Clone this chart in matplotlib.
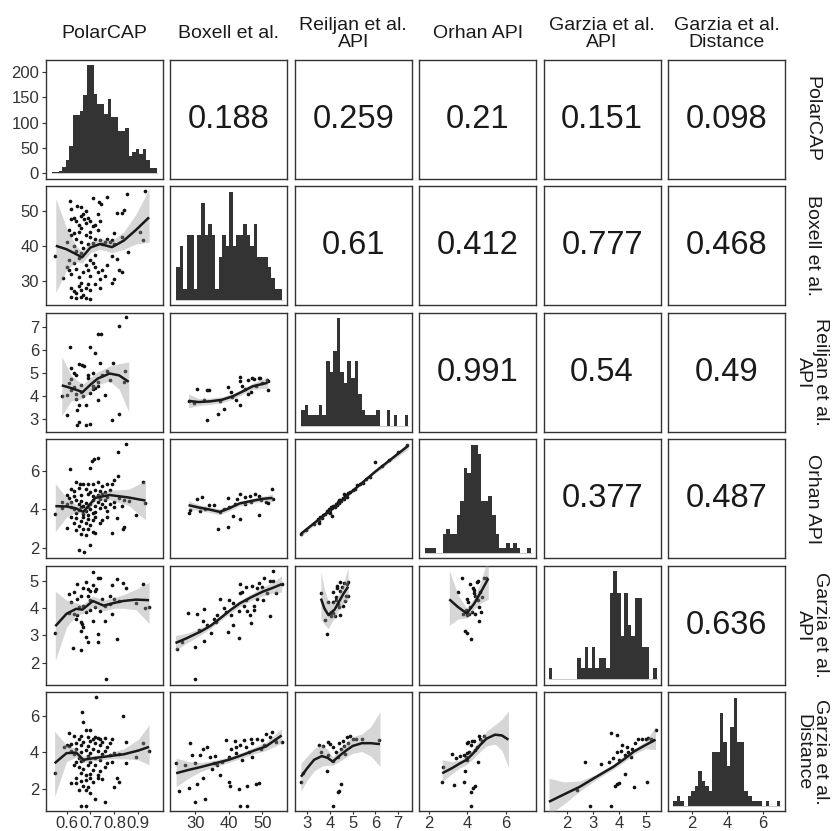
import numpy as np
import matplotlib
matplotlib.use("Agg")
import matplotlib.pyplot as plt

plt.rcParams['font.family'] = ['Liberation Sans', 'DejaVu Sans']

labels = ["PolarCAP", "Boxell et al.", "Reiljan et al.\nAPI", "Orhan API",
          "Garzia et al.\nAPI", "Garzia et al.\nDistance"]

# axis ranges
x_limits = [(0.514, 1.003), (22.6, 57.4), (2.45, 7.6), (1.48, 7.59), (1.13, 5.57), (0.63, 7.27)]
y_limits = [None, (23.1, 56.9), (2.48, 7.59), (1.46, 7.65), (1.19, 5.56), (0.82, 7.25)]
x_ticks = [[0.6, 0.7, 0.8, 0.9], [30, 40, 50], [3, 4, 5, 6, 7], [2, 4, 6], [2, 3, 4, 5], [2, 4, 6]]
y_ticks = [[0, 50, 100, 150, 200], [30, 40, 50], [3, 4, 5, 6, 7], [2, 4, 6], [2, 3, 4, 5], [2, 4, 6]]

# upper triangle correlations, row by row
cor_values = [0.188, 0.259, 0.21, 0.151, 0.098,
              0.61, 0.412, 0.777, 0.468,
              0.991, 0.54, 0.49,
              0.377, 0.487,
              0.636]

# diagonal histograms (30 bins) : bin range + counts
hist_range = [(0.5375, 0.978), (24.4, 55.7), (2.72, 7.44), (1.78, 7.31), (1.32, 5.42), (0.93, 6.99)]
counts_polarcap = [3, 2, 5, 13, 25, 54, 114, 114, 122, 155, 213, 213, 157, 136, 136,
                   116, 146, 111, 111, 84, 84, 89, 33, 42, 47, 38, 47, 26, 10, 10]
counts_boxell = [3, 5, 1, 6, 6, 1, 6, 9, 6, 7, 6, 1, 4, 6, 5,
                 10, 5, 6, 6, 7, 6, 5, 7, 4, 4, 4, 3, 2, 1, 1]
counts_reiljan = [3, 4, 2, 2, 2, 4, 2, 12, 10, 14, 20, 10, 8, 12, 9,
                  12, 6, 3, 2, 2, 2, 3, 0, 0, 3, 0, 2, 0, 0, 2]
counts_orhan = [1, 1, 1, 0, 0, 4, 5, 4, 4, 8, 11, 18, 17, 23, 23,
                21, 11, 11, 12, 8, 4, 1, 1, 2, 1, 2, 1, 0, 0, 1]
counts_garzia_api = [2, 0, 0, 0, 0, 0, 0, 0, 4, 2, 6, 2, 6, 2, 4,
                     4, 2, 16, 20, 16, 8, 16, 10, 8, 15, 15, 6, 6, 0, 2]
counts_garzia_dist = [1, 2, 1, 0, 2, 3, 4, 7, 5, 4, 3, 11, 11, 19, 13,
                      8, 16, 22, 13, 13, 3, 2, 1, 1, 1, 0, 1, 0, 0, 1]

# lower triangle scatter points (x, y)
pts_boxell_polarcap = [
    (0.613, 52.7), (0.645, 51.2), (0.709, 53.7), (0.736, 52.5), (0.742, 51.8), (0.768, 53.9),
    (0.62, 47.5), (0.63, 48), (0.64, 47), (0.65, 46), (0.66, 48.5), (0.67, 49), (0.675, 47.5),
    (0.68, 46.5), (0.69, 48), (0.70, 47), (0.71, 45.5), (0.72, 46), (0.73, 44.5), (0.74, 47),
    (0.66, 45), (0.65, 44), (0.63, 43.5), (0.62, 43), (0.61, 44.5), (0.60, 41), (0.64, 42),
    (0.68, 43), (0.70, 42.5), (0.72, 42), (0.74, 41.5), (0.66, 41), (0.69, 40.5), (0.71, 40.8),
    (0.75, 40.5), (0.76, 41), (0.78, 41.2), (0.80, 40.6), (0.63, 40), (0.67, 39.5), (0.70, 44),
    (0.73, 49), (0.68, 50), (0.66, 51), (0.62, 50.5),
    (0.851, 54.8), (0.927, 55.7), (0.83, 49.2), (0.84, 50.3), (0.81, 49.2), (0.906, 43.9),
    (0.92, 41.6), (0.858, 38.2), (0.81, 36.3), (0.79, 37.2), (0.79, 41.6), (0.77, 42),
    (0.83, 42.5), (0.80, 43.5),
    (0.551, 37.2), (0.586, 30.8), (0.60, 34), (0.61, 33), (0.62, 32), (0.63, 35), (0.64, 33.5),
    (0.65, 31), (0.66, 29.5), (0.67, 32.5), (0.68, 34.5), (0.69, 33), (0.70, 31.5), (0.71, 35),
    (0.72, 34), (0.73, 32.5), (0.74, 30.5), (0.75, 33), (0.76, 31.5), (0.77, 34.5), (0.62, 28),
    (0.63, 27), (0.64, 26.5), (0.65, 28.5), (0.66, 27.5), (0.67, 26), (0.68, 28), (0.69, 29),
    (0.70, 27.5), (0.72, 29), (0.74, 28), (0.62, 25.3), (0.64, 25), (0.66, 25.5), (0.68, 25),
    (0.70, 24.9), (0.79, 29.5), (0.80, 30.4), (0.82, 33), (0.83, 32.5), (0.61, 36), (0.65, 36.5),
    (0.70, 36), (0.66, 38), (0.64, 38.5), (0.72, 37.5)]
pts_reiljan_polarcap = [
    (0.847, 7.40), (0.82, 7.03), (0.73, 6.67), (0.745, 6.67), (0.613, 6.13), (0.70, 6.13),
    (0.72, 5.85), (0.65, 5.4), (0.665, 5.35), (0.675, 5.3), (0.74, 5.42), (0.796, 5.42),
    (0.845, 5.09), (0.62, 5.2), (0.63, 5.0), (0.64, 4.9), (0.60, 3.17), (0.65, 2.89),
    (0.645, 2.74), (0.68, 2.74), (0.70, 2.8), (0.79, 2.99), (0.82, 3.22), (0.76, 4.04),
    (0.73, 3.85), (0.68, 3.64), (0.65, 3.64), (0.645, 3.42), (0.60, 4.04), (0.62, 4.26),
    (0.71, 4.3), (0.72, 4.35), (0.73, 4.45), (0.62, 4.73), (0.69, 4.8), (0.73, 4.6),
    (0.84, 4.6), (0.78, 4.68), (0.66, 4.5), (0.64, 4.1), (0.66, 4.2), (0.67, 4.0),
    (0.70, 4.15), (0.71, 4.45), (0.69, 4.9), (0.71, 5.0), (0.75, 4.9), (0.77, 5.1),
    (0.64, 3.9), (0.63, 4.4), (0.61, 4.55), (0.58, 4.0)]
pts_orhan_polarcap = [
    (0.847, 7.39), (0.816, 7.0), (0.73, 6.7), (0.715, 6.62), (0.705, 6.55), (0.70, 6.16),
    (0.613, 6.1), (0.816, 5.73), (0.92, 5.43), (0.93, 4.34), (0.89, 3.7), (0.81, 3.53),
    (0.84, 3.1), (0.835, 3.0), (0.79, 2.78), (0.65, 1.88), (0.675, 1.75), (0.70, 2.14),
    (0.60, 3.01), (0.553, 3.74), (0.58, 4.4),
    (0.64, 5.45), (0.655, 5.35), (0.67, 5.3), (0.69, 5.35), (0.71, 5.3), (0.73, 5.45),
    (0.75, 5.2), (0.77, 5.3), (0.79, 5.3), (0.80, 5.55), (0.62, 5.05), (0.63, 4.95),
    (0.65, 5.1), (0.68, 5.05), (0.72, 5.0), (0.74, 4.95), (0.76, 4.9), (0.78, 5.0),
    (0.63, 4.7), (0.66, 4.75), (0.69, 4.8), (0.71, 4.7), (0.73, 4.75), (0.75, 4.8),
    (0.77, 4.65), (0.70, 4.9), (0.61, 4.6), (0.60, 4.75),
    (0.62, 4.4), (0.64, 4.5), (0.65, 4.3), (0.66, 4.45), (0.67, 4.2), (0.68, 4.35),
    (0.69, 4.1), (0.70, 4.3), (0.71, 4.5), (0.72, 4.2), (0.73, 4.4), (0.74, 4.55),
    (0.75, 4.3), (0.76, 4.5), (0.78, 4.3), (0.80, 4.4), (0.82, 4.6), (0.84, 4.5),
    (0.86, 4.45), (0.63, 4.0), (0.65, 3.95), (0.66, 4.1), (0.68, 3.9), (0.70, 4.0),
    (0.72, 3.85), (0.74, 4.05), (0.76, 4.1), (0.64, 3.8), (0.67, 3.75), (0.69, 3.7),
    (0.71, 3.8), (0.77, 3.9), (0.80, 4.1), (0.83, 4.2), (0.62, 4.1), (0.60, 4.3), (0.58, 4.05),
    (0.62, 3.6), (0.64, 3.55), (0.66, 3.4), (0.67, 3.6), (0.68, 3.3), (0.69, 3.5),
    (0.70, 3.2), (0.71, 3.45), (0.72, 3.6), (0.74, 3.3), (0.65, 3.15), (0.67, 3.0),
    (0.69, 2.95), (0.71, 2.8), (0.66, 2.7), (0.68, 2.65), (0.72, 2.75), (0.64, 2.9),
    (0.75, 3.45), (0.77, 3.6), (0.63, 3.3)]
pts_garzia_api_polarcap = [
    (0.709, 5.35), (0.553, 3.09), (0.765, 1.40), (0.625, 2.55), (0.66, 2.45), (0.69, 2.76),
    (0.73, 2.76), (0.81, 2.87), (0.73, 3.04), (0.66, 3.17), (0.68, 2.95), (0.71, 3.52),
    (0.76, 3.53), (0.66, 3.5), (0.666, 3.42), (0.645, 4.9), (0.68, 4.97), (0.73, 5.1),
    (0.74, 5.1), (0.79, 4.87), (0.81, 5.08), (0.835, 4.94), (0.85, 4.76), (0.92, 4.9),
    (0.61, 4.51), (0.63, 4.6), (0.62, 4.25), (0.645, 4.35), (0.66, 4.44), (0.69, 4.46),
    (0.70, 4.3), (0.72, 4.62), (0.725, 4.7), (0.69, 4.7), (0.75, 4.35), (0.78, 4.44),
    (0.80, 4.35), (0.82, 4.28), (0.93, 4.0), (0.945, 4.05), (0.89, 4.2), (0.79, 3.8),
    (0.61, 3.84), (0.63, 3.78), (0.645, 3.75), (0.68, 3.85), (0.70, 3.95), (0.72, 4.05),
    (0.74, 3.9), (0.76, 4.1), (0.78, 4.15), (0.67, 4.1), (0.65, 4.05), (0.70, 4.65),
    (0.71, 4.85), (0.67, 4.75), (0.64, 3.6), (0.67, 3.3)]
pts_garzia_dist_polarcap = [
    (0.723, 6.99), (0.665, 6.18), (0.67, 5.63), (0.835, 5.96), (0.55, 2.9), (0.66, 1.1),
    (0.68, 1.1), (0.76, 1.29), (0.72, 1.45), (0.70, 1.81), (0.80, 2.14), (0.82, 2.38),
    (0.64, 2.36), (0.62, 2.36), (0.65, 1.97), (0.81, 2.6), (0.89, 3.75), (0.92, 4.5),
    (0.945, 4.05), (0.85, 4.55), (0.85, 3.41), (0.61, 5.07), (0.79, 4.7), (0.68, 1.95),
    (0.69, 2.1), (0.67, 2.2), (0.71, 2.4), (0.73, 2.6),
    (0.63, 4.9), (0.65, 4.75), (0.66, 4.9), (0.68, 5.2), (0.69, 4.85), (0.70, 5.2),
    (0.71, 4.7), (0.72, 4.85), (0.73, 4.8), (0.74, 4.75), (0.76, 4.8), (0.78, 4.5),
    (0.62, 4.45), (0.64, 4.5), (0.66, 4.4), (0.67, 4.55), (0.69, 4.35), (0.70, 4.6),
    (0.72, 4.5), (0.74, 4.4), (0.75, 4.55), (0.77, 4.3), (0.60, 4.4), (0.61, 4.35), (0.59, 4.3),
    (0.62, 4.1), (0.63, 3.9), (0.64, 4.2), (0.65, 3.7), (0.66, 4.0), (0.67, 3.6),
    (0.68, 4.15), (0.69, 3.8), (0.70, 3.95), (0.71, 4.2), (0.72, 3.7), (0.73, 4.05),
    (0.74, 3.6), (0.75, 3.9), (0.76, 4.1), (0.78, 3.85), (0.80, 3.95), (0.82, 3.9),
    (0.64, 3.5), (0.66, 3.55), (0.70, 3.5), (0.77, 3.45), (0.79, 3.5),
    (0.63, 3.3), (0.65, 3.2), (0.66, 2.9), (0.67, 3.1), (0.68, 2.75), (0.69, 3.3),
    (0.70, 2.85), (0.71, 3.05), (0.72, 3.3), (0.73, 2.75), (0.74, 3.0), (0.75, 2.55),
    (0.64, 2.6), (0.66, 2.45), (0.68, 2.5), (0.70, 2.6), (0.76, 3.2)]
pts_reiljan_boxell = [
    (28, 3.8), (30.5, 4.32), (33.5, 4.25), (34, 4.25), (33.4, 2.96), (36.7, 3.22), (38.5, 3.44),
    (39.8, 4.41), (43.2, 3.61), (43.4, 4.66), (45.6, 4.68), (47.5, 4.75), (48.9, 4.77),
    (51.5, 4.27), (40.5, 4.17), (44.8, 4.3), (46.7, 4.2), (48, 4.45), (45.6, 4.08), (42, 3.85),
    (37.4, 3.8), (32.5, 3.85), (29.6, 3.7), (49.9, 4.55), (51.5, 4.66), (43.4, 4.83),
    (46.9, 4.77), (49.3, 4.8), (51.3, 4.7), (41, 3.95), (44, 4.45)]
pts_orhan_boxell = [
    (28, 3.82), (30.5, 4.52), (32, 4.65), (34, 4.25), (35.5, 4.25), (36.7, 2.96), (39.6, 3.1),
    (41.2, 3.67), (39.8, 4.6), (43.4, 3.5), (43.4, 4.8), (44.8, 4.65), (46.3, 4.7), (47.7, 4.78),
    (49, 4.7), (48.9, 3.7), (51, 4.4), (52.8, 5.09), (28.5, 3.95), (31.5, 3.92), (33, 4.0),
    (37.3, 3.87), (40, 4.1), (41.8, 4.3), (44.8, 4.3), (46.5, 4.4), (49.5, 4.5), (51.5, 4.35),
    (53, 4.55), (42.5, 4.55), (38.5, 4.0)]
pts_garzia_api_boxell = [
    (24.5, 2.5), (27.8, 3.83), (30.4, 3.8), (29.9, 2.57), (29.9, 1.4), (32.3, 3.52), (32.6, 3.99),
    (32.6, 2.8), (34.6, 3.08), (36.3, 3.5), (37.3, 4.33), (39.6, 3.13), (40, 4.3), (41.2, 4.19),
    (41.2, 3.39), (42.9, 2.9), (42.9, 3.9), (43.2, 4.55), (43.4, 4.9), (45.2, 4.77), (45.2, 4.3),
    (45.4, 3.9), (46.3, 3.74), (47, 4.83), (47.5, 4.1), (48.3, 4.35), (49.1, 4.92), (50, 4.8),
    (50.1, 4.3), (51.3, 4.55), (52.1, 3.73), (52.3, 5.0), (53.1, 5.0), (53, 5.38), (54, 4.55),
    (55.7, 4.89), (47.5, 3.95), (46.5, 3.45), (38.5, 4.0), (35.5, 3.6), (33.5, 3.4), (31, 3.2),
    (26, 2.75), (44, 4.6), (48.5, 4.75), (50.5, 5.1), (44.5, 4.1), (40.5, 3.75), (36.5, 3.75),
    (39, 3.85)]
pts_garzia_dist_boxell = [
    (24.2, 3.43), (25.2, 1.9), (28, 2.05), (28.5, 4.51), (29, 3.85), (31.5, 3.85), (29.9, 1.29),
    (33, 1.45), (30.4, 2.3), (32.3, 2.6), (32.3, 4.2), (33.6, 4.3), (34.5, 3.75), (35, 3.1),
    (36, 3.8), (36.5, 3.3), (37.3, 2.8), (39, 4.65), (40, 3.75), (40.5, 4.2), (40, 2.4),
    (40.3, 2.2), (42, 4.3), (42.2, 3.95), (42.9, 2.02), (43.2, 1.09), (45.5, 2.2), (45.5, 1.09),
    (47, 3.75), (48, 2.3), (49, 2.35), (48.5, 4.71), (50, 4.65), (51, 5.0), (52.2, 4.85),
    (53.8, 4.65), (52.8, 5.12), (54, 4.55), (55.7, 4.55), (47, 4.5), (45, 4.3), (43.2, 4.4),
    (41.8, 4.6), (38, 3.5), (44, 3.6), (46, 4.0), (49.5, 4.2), (50.5, 4.4), (30, 3.4), (27, 3.3),
    (35.5, 3.45), (44.5, 4.65), (46.5, 4.7)]
pts_orhan_reiljan = [
    (2.72, 2.7), (2.95, 2.9), (3.3, 3.25), (3.45, 3.5), (3.5, 3.4), (3.55, 3.6), (3.5, 3.3),
    (3.65, 3.55), (3.7, 3.7), (3.8, 3.75), (3.85, 3.9), (3.9, 3.85), (3.95, 4.0), (4.0, 3.95),
    (4.05, 4.1), (4.08, 3.65), (4.1, 4.05), (4.15, 4.2), (4.2, 4.1), (4.25, 4.3), (4.3, 4.25),
    (4.35, 4.4), (4.4, 4.35), (4.45, 4.5), (4.5, 4.45), (4.55, 4.6), (4.6, 4.55), (4.65, 4.7),
    (4.7, 4.75), (4.75, 4.65), (4.8, 4.85), (4.9, 4.9), (5.0, 5.0), (5.1, 5.05), (5.2, 5.25),
    (5.3, 5.3), (5.45, 5.4), (5.6, 5.6), (5.75, 5.7), (6.0, 6.47), (6.3, 6.25), (6.6, 6.6),
    (7.0, 7.0), (7.4, 7.35), (3.98, 3.8), (4.4, 4.5), (4.6, 4.8)]
pts_garzia_api_reiljan = [
    (3.6, 4.57), (3.93, 4.24), (3.85, 3.04), (3.98, 3.79), (4.12, 3.83), (4.25, 4.3), (4.45, 4.97),
    (4.32, 4.83), (4.3, 4.75), (4.28, 4.4), (4.42, 4.65), (4.38, 4.05), (4.67, 4.28), (4.7, 4.45),
    (4.45, 3.75), (4.2, 3.73), (3.8, 3.56), (4.13, 4.6), (4.52, 4.8), (4.75, 4.9), (4.8, 4.98),
    (4.78, 4.45), (4.15, 4.25), (4.55, 4.1), (4.05, 3.7), (4.6, 4.95), (4.35, 4.15)]
pts_garzia_dist_reiljan = [
    (2.72, 2.41), (2.8, 2.9), (3.5, 4.41), (3.68, 4.35), (3.6, 4.0), (3.85, 3.0), (3.93, 4.57),
    (4.0, 4.48), (4.12, 4.3), (4.12, 3.56), (4.38, 4.52), (4.48, 4.2), (4.35, 3.75), (4.33, 1.87),
    (4.38, 1.93), (4.12, 1.09), (4.48, 2.3), (4.67, 3.9), (4.6, 4.35), (4.75, 4.84), (4.8, 4.5),
    (4.87, 4.87), (5.0, 4.75), (5.15, 4.75), (3.9, 3.85), (4.25, 4.0), (4.55, 4.6), (6.15, 4.65),
    (5.4, 4.7)]
pts_garzia_api_orhan = [
    (3.7, 5.1), (3.5, 4.6), (4.14, 4.9), (4.5, 4.97), (4.55, 5.0), (4.85, 5.1), (4.95, 5.1),
    (4.32, 4.68), (4.28, 4.75), (4.35, 4.55), (3.96, 4.33), (4.05, 4.25), (4.15, 4.05), (3.9, 3.95),
    (3.75, 3.8), (4.25, 3.85), (4.6, 4.05), (4.7, 3.85), (4.55, 4.3), (4.4, 3.8), (4.75, 4.4),
    (4.6, 3.52), (3.85, 3.16), (3.95, 3.1), (4.2, 2.88), (4.1, 3.8), (4.0, 3.75), (4.4, 4.45),
    (4.65, 4.6)]
pts_garzia_dist_orhan = [
    (2.65, 2.41), (2.7, 3.2), (3.2, 3.9), (3.3, 2.23), (3.8, 2.41), (3.8, 3.85), (3.9, 3.75),
    (3.96, 3.95), (3.96, 4.5), (4.05, 4.55), (4.2, 4.4), (4.35, 4.6), (4.4, 4.15), (4.2, 1.87),
    (4.3, 2.05), (4.4, 2.19), (4.2, 1.09), (4.6, 4.87), (4.85, 4.87), (4.75, 4.6), (4.55, 3.5),
    (4.1, 4.0), (3.85, 3.0), (4.5, 4.3), (4.0, 3.6), (3.6, 3.8), (3.4, 3.7), (4.65, 4.75),
    (4.25, 4.6)]
pts_garzia_dist_garzia_api = [
    (2.4, 1.96), (2.7, 3.5), (2.9, 1.09), (3.68, 5.05), (3.93, 4.93), (3.68, 1.09), (3.9, 2.3),
    (4.0, 2.35), (3.85, 2.2), (4.2, 2.85), (4.55, 2.1), (5.06, 2.4), (5.38, 5.2), (4.6, 4.5),
    (4.7, 4.7), (4.85, 4.7), (5.0, 4.7), (5.25, 4.65), (3.9, 4.0), (4.05, 4.1), (4.2, 3.85),
    (4.35, 4.0), (4.45, 3.75), (3.3, 3.35), (3.6, 3.5), (4.5, 4.2), (5.1, 4.8), (5.2, 4.75),
    (4.1, 4.4), (4.3, 4.3), (3.75, 3.7), (4.0, 3.6)]

# loess smooths: (x, fit, lower, upper)
fit_boxell_polarcap = [
    (0.555, 40, 26.7, 53.5), (0.60, 39, 33, 45), (0.64, 37.6, 35.5, 40), (0.665, 36.7, 35, 38.5),
    (0.70, 39.5, 38, 41), (0.74, 40.5, 39, 42), (0.79, 39.6, 38, 41.5), (0.84, 41.5, 39, 44),
    (0.89, 44.5, 40.5, 49), (0.945, 48.1, 41, 56.2)]
fit_reiljan_polarcap = [
    (0.58, 4.47, 3.17, 5.7), (0.62, 4.35, 3.8, 4.9), (0.667, 4.18, 3.9, 4.5), (0.70, 4.5, 4.2, 4.8),
    (0.73, 4.76, 4.5, 5.05), (0.78, 4.98, 4.65, 5.3), (0.82, 4.9, 4.3, 5.4), (0.86, 4.62, 3.32, 5.48)]
fit_orhan_polarcap = [
    (0.553, 4.17, 2.83, 5.35), (0.60, 4.15, 3.6, 4.6), (0.64, 4.05, 3.85, 4.25),
    (0.67, 3.87, 3.75, 4.05), (0.70, 4.3, 4.15, 4.45), (0.72, 4.6, 4.45, 4.75),
    (0.78, 4.75, 4.5, 5.0), (0.86, 4.62, 4.2, 5.05), (0.93, 4.46, 3.45, 5.5)]
fit_garzia_api_polarcap = [
    (0.553, 3.34, 2.08, 4.63), (0.60, 3.8, 3.3, 4.3), (0.64, 3.98, 3.75, 4.2),
    (0.666, 3.95, 3.8, 4.12), (0.71, 4.27, 4.05, 4.45), (0.755, 4.1, 3.9, 4.3),
    (0.80, 4.2, 4.0, 4.4), (0.837, 4.27, 4.0, 4.5), (0.89, 4.32, 3.95, 4.7), (0.945, 4.3, 3.44, 4.96)]
fit_garzia_dist_polarcap = [
    (0.55, 3.41, 1.6, 5.14), (0.60, 3.96, 3.5, 4.4), (0.64, 3.99, 3.75, 4.2), (0.67, 3.6, 3.45, 3.8),
    (0.72, 3.7, 3.55, 3.85), (0.78, 3.8, 3.65, 3.95), (0.84, 3.9, 3.65, 4.2), (0.90, 4.1, 3.6, 4.7),
    (0.945, 4.3, 3.32, 5.5)]
fit_reiljan_boxell = [
    (28, 3.8, 3.5, 4.1), (31, 3.75, 3.6, 3.9), (34.4, 3.78, 3.65, 3.92), (38, 3.85, 3.72, 3.98),
    (41.2, 4.0, 3.88, 4.12), (44, 4.2, 4.08, 4.32), (47.1, 4.43, 4.3, 4.56), (51.5, 4.58, 4.35, 4.82)]
fit_orhan_boxell = [
    (28, 4.22, 4.0, 4.45), (31, 4.1, 3.95, 4.25), (34, 4.0, 3.85, 4.15), (37.3, 3.87, 3.72, 4.02),
    (40, 4.05, 3.92, 4.18), (43.2, 4.31, 4.18, 4.44), (47, 4.45, 4.33, 4.57), (50, 4.55, 4.42, 4.68),
    (53, 4.6, 4.4, 4.8)]
fit_garzia_api_boxell = [
    (24.1, 2.72, 2.45, 3.0), (27.5, 2.9, 2.72, 3.08), (31.4, 3.13, 3.0, 3.26), (34.5, 3.35, 3.25, 3.45),
    (37.3, 3.62, 3.52, 3.72), (40.3, 3.92, 3.82, 4.02), (43.2, 4.18, 4.07, 4.29), (46.5, 4.4, 4.28, 4.52),
    (50, 4.61, 4.45, 4.77), (53, 4.75, 4.55, 4.95), (55.7, 4.89, 4.6, 5.2)]
fit_garzia_dist_boxell = [
    (24.3, 2.87, 2.14, 3.69), (28, 3.05, 2.6, 3.5), (31.5, 3.2, 2.95, 3.45), (35.3, 3.38, 3.2, 3.56),
    (40, 3.6, 3.45, 3.75), (44.2, 3.87, 3.72, 4.02), (47.5, 4.1, 3.92, 4.28), (51, 4.32, 4.1, 4.55),
    (55.7, 4.92, 4.5, 5.3)]
fit_orhan_reiljan = [
    (2.72, 2.72, 2.57, 2.87), (4.0, 3.95, 3.9, 4.0), (5.0, 4.97, 4.92, 5.02), (6.0, 5.98, 5.9, 6.06),
    (7.44, 7.32, 7.15, 7.49)]
fit_garzia_api_reiljan = [
    (3.6, 4.36, 3.6, 5.35), (3.75, 4.0, 3.4, 4.7), (3.93, 3.75, 3.25, 4.25), (4.05, 3.85, 3.45, 4.2),
    (4.2, 3.95, 3.65, 4.25), (4.4, 4.25, 3.95, 4.55), (4.6, 4.55, 4.2, 4.95), (4.8, 4.8, 4.3, 5.5)]
fit_garzia_dist_reiljan = [
    (2.72, 2.68, 1.9, 3.4), (3.0, 3.15, 2.5, 3.8), (3.3, 3.6, 3.0, 4.2), (3.64, 3.8, 3.25, 4.45),
    (3.9, 3.7, 3.3, 4.15), (4.12, 3.5, 3.3, 3.75), (4.4, 3.8, 3.5, 4.1), (4.75, 4.14, 3.78, 4.6),
    (5.0, 4.35, 3.95, 4.85), (5.4, 4.5, 4.05, 5.0), (5.8, 4.5, 3.8, 5.4), (6.2, 4.45, 3.24, 6.2)]
fit_garzia_api_orhan = [
    (3.05, 4.33, 3.37, 5.4), (3.5, 4.05, 3.6, 4.5), (3.96, 3.81, 3.65, 4.0), (4.36, 4.18, 3.98, 4.4),
    (4.7, 4.6, 4.2, 5.0), (5.09, 5.1, 4.33, 5.9)]
fit_garzia_dist_orhan = [
    (2.68, 2.87, 2.4, 3.6), (3.2, 3.15, 2.85, 3.5), (3.6, 3.4, 3.15, 3.6), (3.96, 3.6, 3.35, 3.85),
    (4.3, 3.95, 3.65, 4.2), (4.67, 4.41, 4.05, 4.75), (5.0, 4.75, 4.35, 5.15), (5.44, 4.96, 4.45, 5.5),
    (5.8, 4.92, 4.1, 5.8), (6.14, 4.69, 3.2, 6.25)]
fit_garzia_dist_garzia_api = [
    (1.33, 1.32, 0.6, 2.6), (1.9, 1.72, 1.2, 2.4), (2.51, 2.14, 1.9, 2.45), (3.1, 2.65, 2.5, 2.8),
    (3.79, 3.23, 3.1, 3.38), (4.2, 3.65, 3.5, 3.8), (4.56, 4.05, 3.9, 4.2), (5.0, 4.4, 4.2, 4.6),
    (5.38, 4.69, 4.15, 5.4)]

hist_counts = [counts_polarcap, counts_boxell, counts_reiljan, counts_orhan,
               counts_garzia_api, counts_garzia_dist]
lower = {
    (1, 0): (pts_boxell_polarcap, fit_boxell_polarcap),
    (2, 0): (pts_reiljan_polarcap, fit_reiljan_polarcap),
    (3, 0): (pts_orhan_polarcap, fit_orhan_polarcap),
    (4, 0): (pts_garzia_api_polarcap, fit_garzia_api_polarcap),
    (5, 0): (pts_garzia_dist_polarcap, fit_garzia_dist_polarcap),
    (2, 1): (pts_reiljan_boxell, fit_reiljan_boxell),
    (3, 1): (pts_orhan_boxell, fit_orhan_boxell),
    (4, 1): (pts_garzia_api_boxell, fit_garzia_api_boxell),
    (5, 1): (pts_garzia_dist_boxell, fit_garzia_dist_boxell),
    (3, 2): (pts_orhan_reiljan, fit_orhan_reiljan),
    (4, 2): (pts_garzia_api_reiljan, fit_garzia_api_reiljan),
    (5, 2): (pts_garzia_dist_reiljan, fit_garzia_dist_reiljan),
    (4, 3): (pts_garzia_api_orhan, fit_garzia_api_orhan),
    (5, 3): (pts_garzia_dist_orhan, fit_garzia_dist_orhan),
    (5, 4): (pts_garzia_dist_garzia_api, fit_garzia_dist_garzia_api),
}

W, H = 832, 831
fig = plt.figure(figsize=(W / 100, H / 100), dpi=100)
left, right, top, bottom = 46, 785, 60, 811
gs = fig.add_gridspec(6, 6, left=left / W, right=right / W, top=1 - top / H,
                      bottom=1 - bottom / H, wspace=0.064, hspace=0.0675)

text_col = '#1a1a1a'
axes = {}
cor_iter = iter(cor_values)
for i in range(6):
    for j in range(6):
        ax = fig.add_subplot(gs[i, j])
        axes[i, j] = ax
        ax.set_xlim(*x_limits[j])
        if i == j:
            counts = hist_counts[i]
            lo, hi = hist_range[i]
            edges = np.linspace(lo, hi, len(counts) + 1)
            ax.plot([lo, hi], [0, 0], color='#cccccc', lw=0.8, zorder=1)
            ax.bar(edges[:-1], counts, width=np.diff(edges), align='edge',
                   color='#333333', lw=0, zorder=2)
            m = max(counts)
            ax.set_ylim(-0.05 * m, 1.05 * m)
        elif i < j:
            ax.text(0.5, 0.5, f"{next(cor_iter):.3g}", transform=ax.transAxes,
                    ha='center', va='center', fontsize=23.5, color=text_col)
        else:
            pts, fit = lower[i, j]
            pts = np.array(pts)
            fit = np.array(fit)
            ax.scatter(pts[:, 0], pts[:, 1], s=7, color='#111111', linewidths=0, zorder=2)
            ax.fill_between(fit[:, 0], fit[:, 2], fit[:, 3], color='#999999', alpha=0.4,
                            lw=0, zorder=3)
            ax.plot(fit[:, 0], fit[:, 1], color='#1a1a1a', lw=1.8, zorder=4,
                    solid_capstyle='butt', solid_joinstyle='round')
            ax.set_ylim(*y_limits[i])
        for sp in ax.spines.values():
            sp.set_color('#333333')
            sp.set_linewidth(1.0)
        ax.tick_params(length=0, labelbottom=False, labelleft=False)
        ax.set_xticks([])
        ax.set_yticks([])
        if j == 0:
            ax.set_yticks(y_ticks[i])
            ax.set_yticklabels([f"{t:g}" for t in y_ticks[i]])
            ax.tick_params(axis='y', length=3, width=0.8, color='#333333', labelleft=True,
                           labelsize=12, labelcolor='#333333', pad=2)
        if i == 5:
            ax.set_xticks(x_ticks[j])
            ax.set_xticklabels([f"{t:g}" for t in x_ticks[j]])
            ax.tick_params(axis='x', length=2.5, width=0.8, color='#333333', labelbottom=True,
                           labelsize=12, labelcolor='#333333', pad=1)

# strip labels
for k, lab in enumerate(labels):
    bx = axes[0, k].get_position()
    fig.text((bx.x0 + bx.x1) / 2, 1 - 34 / H, lab, ha='center', va='center',
             fontsize=14, color=text_col, linespacing=1.05)
    by = axes[k, 5].get_position()
    fig.text(812 / W, (by.y0 + by.y1) / 2, lab, ha='center', va='center', rotation=270,
             fontsize=14, color=text_col, linespacing=1.05)

fig.savefig("out.png", dpi=100)
